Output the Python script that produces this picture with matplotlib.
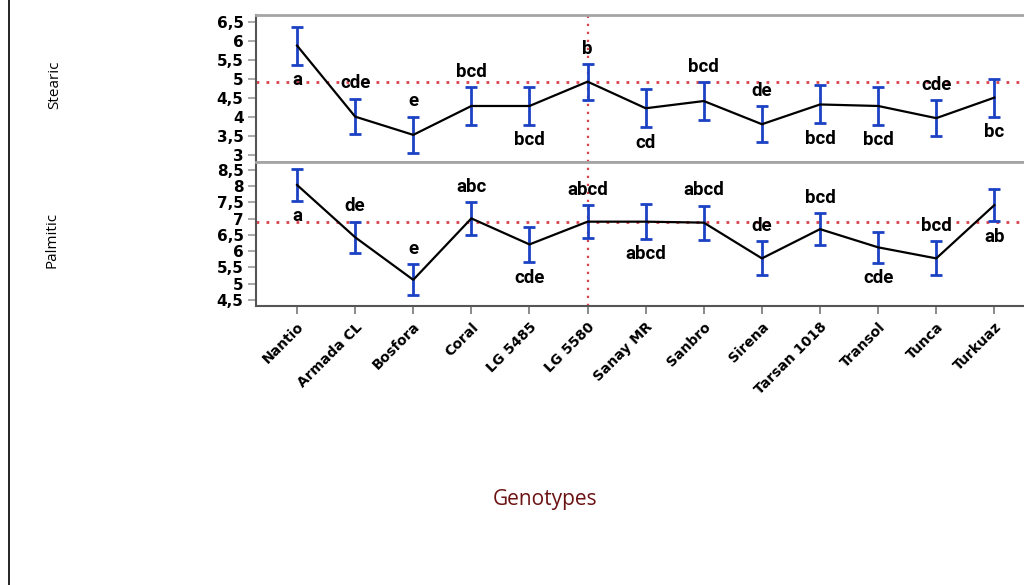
import matplotlib
matplotlib.use("Agg")
import matplotlib.pyplot as plt
from matplotlib.lines import Line2D
import numpy as np

genotypes = ["Nantio", "Armada CL", "Bosfora", "Coral", "LG 5485", "LG 5580",
             "Sanay MR", "Sanbro", "Sirena", "Tarsan 1018", "Transol", "Tunca", "Turkuaz"]

stearic_mean = [5.88, 4.01, 3.53, 4.29, 4.29, 4.93, 4.23, 4.42, 3.81, 4.33, 4.29, 3.97, 4.51]
stearic_err = [0.50, 0.47, 0.48, 0.50, 0.50, 0.47, 0.50, 0.50, 0.48, 0.50, 0.50, 0.47, 0.50]
stearic_letters = ["a", "cde", "e", "bcd", "bcd", "b", "cd", "bcd", "de", "bcd", "bcd", "cde", "bc"]
stearic_side = ["below", "above", "above", "above", "below", "above", "below", "above",
                "above", "below", "below", "above", "below"]

palmitic_mean = [8.04, 6.43, 5.12, 7.01, 6.21, 6.91, 6.91, 6.88, 5.78, 6.68, 6.12, 5.78, 7.42]
palmitic_err = [0.48, 0.48, 0.48, 0.50, 0.55, 0.50, 0.53, 0.52, 0.52, 0.49, 0.48, 0.52, 0.50]
palmitic_letters = ["a", "de", "e", "abc", "cde", "abcd", "abcd", "abcd", "de", "bcd", "cde", "bcd", "ab"]
palmitic_side = ["below", "above", "above", "above", "below", "above", "below", "above",
                 "above", "above", "below", "above", "below"]

stearic_ticks = [3, 3.5, 4, 4.5, 5, 5.5, 6, 6.5]
stearic_ticklabels = ["3", "3,5", "4", "4,5", "5", "5,5", "6", "6,5"]
palmitic_ticks = [4.5, 5, 5.5, 6, 6.5, 7, 7.5, 8, 8.5]
palmitic_ticklabels = ["4,5", "5", "5,5", "6", "6,5", "7", "7,5", "8", "8,5"]

control = "LG 5580"

W, H = 1024, 585
fig = plt.figure(figsize=(W / 100, H / 100), dpi=100)

def fx(px):
    return px / W

def fy(py):
    return 1 - py / H

left_px, right_px = 256, 1030
ax1 = fig.add_axes([fx(left_px), fy(162), fx(right_px - left_px), (162 - 15) / H])
ax2 = fig.add_axes([fx(left_px), fy(306), fx(right_px - left_px), (306 - 162) / H])

x = np.arange(len(genotypes))
ci = genotypes.index(control)
letter_font = ["Roboto", "DejaVu Sans"]
red = "#d8424a"
blue = "#1c42c4"

def panel(ax, mean, err, letters, side, ticks, ticklabels, ylim):
    mean = np.array(mean)
    err = np.array(err)
    ax.errorbar(x, mean, yerr=err, fmt="none", ecolor=blue, elinewidth=2.0,
                capsize=4, capthick=2.0, zorder=3)
    ax.plot(x, mean, color="black", lw=1.6, zorder=4)
    ax.axhline(mean[ci], color=red, lw=2.0, ls=(0, (1, 2.6)), zorder=2)
    ax.axvline(x[ci], color=red, lw=1.6, ls=(0, (1, 2.6)), zorder=2)
    for xi, m, e, lab, s in zip(x, mean, err, letters, side):
        if s == "above":
            yv, off = m + e, 11
        else:
            yv, off = m - e, -11
        ax.annotate(lab, (xi, yv), xytext=(0, off), textcoords="offset points",
                    ha="center", va="center", fontsize=13.5, fontweight="bold",
                    family=letter_font, color="black", zorder=5)
    ax.set_ylim(*ylim)
    ax.set_xlim(-0.706, 12.51 + (1030 - 1024) / 58.1)
    ax.set_yticks(ticks)
    ax.set_yticklabels(ticklabels, fontsize=11, fontweight="bold")
    ax.tick_params(axis="y", direction="out", length=6, width=1.2, color="#9a9a9a", pad=3)
    ax.spines["right"].set_visible(False)
    ax.spines["left"].set_color("#555555")
    ax.spines["left"].set_linewidth(1.5)
    ax.spines["top"].set_color("#a5a5a5")
    ax.spines["top"].set_linewidth(2.0)
    ax.spines["bottom"].set_color("#9a9a9a")
    ax.spines["bottom"].set_linewidth(2.0)

panel(ax1, stearic_mean, stearic_err, stearic_letters, stearic_side,
      stearic_ticks, stearic_ticklabels, (2.816, 6.684))
panel(ax2, palmitic_mean, palmitic_err, palmitic_letters, palmitic_side,
      palmitic_ticks, palmitic_ticklabels, (4.315, 8.746))

ax1.set_xticks([])
ax2.set_xticks(x)
ax2.set_xticklabels(genotypes, rotation=45, ha="right", rotation_mode="anchor",
                    fontsize=10, fontweight="bold")
ax2.tick_params(axis="x", direction="out", length=6, width=1.2, color="#777777", pad=4)
ax2.spines["bottom"].set_color("#555555")
ax2.spines["bottom"].set_linewidth(1.5)

fig.text(fx(55), fy(85), "Stearic", rotation=90, ha="center", va="center",
         fontsize=11, family="Open Sans")
fig.text(fx(52), fy(240), "Palmitic", rotation=90, ha="center", va="center",
         fontsize=11, family="Open Sans")
fig.text(fx(545), fy(500), "Genotypes", ha="center", va="center",
         fontsize=15, color="#6b1212", family="Open Sans")

fig.add_artist(Line2D([fx(9), fx(9)], [0, 1], color="black", lw=1.2))

fig.savefig("out.png", dpi=100)
